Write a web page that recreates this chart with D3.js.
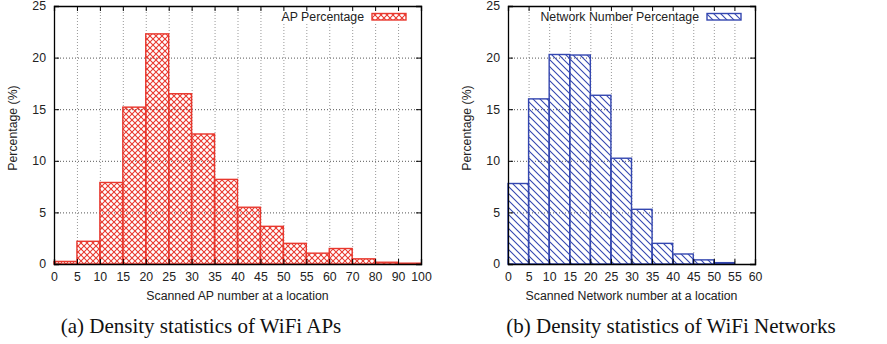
<!DOCTYPE html>
<html>
<head>
  <meta charset="utf-8">
  <script src="https://cdn.jsdelivr.net/npm/d3@7"></script>
  <style>
    body { margin: 0; background: #fff; }
    svg text { font-family: "Liberation Sans", Arial, sans-serif; fill: #222; }
    .caption { font-family: "Liberation Serif", "DejaVu Serif", serif; font-size: 21px; fill: #111; }
  </style>
</head>
<body>
<script type="text/javascript">
  // left chart: AP counts per location
  var apEdges = [0, 5, 10, 15, 20, 25, 30, 35, 40, 45, 50, 55, 60, 70, 80, 90, 100];
  var apValues = [0.25, 2.2, 7.9, 15.2, 22.3, 16.5, 12.6, 8.2, 5.5, 3.65, 2.0, 1.05, 1.5, 0.5, 0.17, 0.08];

  // right chart: network counts per location
  var netEdges = [0, 5, 10, 15, 20, 25, 30, 35, 40, 45, 50, 55, 60];
  var netValues = [7.8, 16.0, 20.3, 20.25, 16.35, 10.25, 5.3, 2.0, 0.97, 0.4, 0.13, 0.0];

  var yTicks = [0, 5, 10, 15, 20, 25];
  var fs = 12.3;

  var svg = d3.select("body").append("svg")
    .attr("width", 887)
    .attr("height", 344);

  var defs = svg.append("defs");

  // crosshatch
  var cross = defs.append("pattern")
    .attr("id", "cross")
    .attr("patternUnits", "userSpaceOnUse")
    .attr("width", 6).attr("height", 6);
  cross.append("path")
    .attr("d", "M0,0L6,6M6,0L0,6")
    .attr("stroke", "#e8382e").attr("stroke-width", 1.1);

  // diagonal hatch
  var diag = defs.append("pattern")
    .attr("id", "diag")
    .attr("patternUnits", "userSpaceOnUse")
    .attr("width", 7).attr("height", 7);
  diag.append("path")
    .attr("d", "M0,0L7,7M-1,6L1,8M6,-1L8,1")
    .attr("stroke", "#3447b0").attr("stroke-width", 1.1);

  function drawChart(opt) {
    var g = svg.append("g");
    var n = opt.values.length;

    var x = d3.scaleLinear().domain([0, n]).range([opt.left, opt.right]);
    var y = d3.scaleLinear().domain([0, 25]).range([264, 6]);

    // grid
    g.append("g")
      .attr("transform", "translate(0,6)")
      .call(d3.axisBottom(x).tickValues(d3.range(1, n)).tickSize(258).tickFormat(""))
      .call(function (a) {
        a.select(".domain").remove();
        a.selectAll("line").attr("stroke", "#999").attr("stroke-dasharray", "1,2");
      });
    g.append("g")
      .attr("transform", "translate(" + opt.left + ",0)")
      .call(d3.axisRight(y).tickValues([5, 10, 15, 20]).tickSize(opt.right - opt.left).tickFormat(""))
      .call(function (a) {
        a.select(".domain").remove();
        a.selectAll("line").attr("stroke", "#555").attr("stroke-dasharray", "1,2");
      });

    // legend background covers the grid
    g.append("rect")
      .attr("x", opt.legendX - opt.legendW - 3)
      .attr("y", 7)
      .attr("width", opt.legendW + 50)
      .attr("height", 16)
      .attr("fill", "#fff");

    // bars
    g.selectAll("rect.bar")
      .data(opt.values)
      .enter().append("rect")
      .attr("class", "bar")
      .attr("x", function (d, i) { return x(i); })
      .attr("width", function (d, i) { return x(i + 1) - x(i); })
      .attr("y", function (d) { return y(d); })
      .attr("height", function (d) { return y(0) - y(d); })
      .attr("fill", opt.fill)
      .attr("stroke", opt.color)
      .attr("stroke-width", 1.4);

    // axes with inward ticks
    var bottom = g.append("g")
      .attr("transform", "translate(0,264)")
      .call(d3.axisBottom(x).tickValues(d3.range(0, n + 1))
        .tickFormat(function (d) { return opt.edges[d]; })
        .tickSize(-5).tickPadding(8));
    var left = g.append("g")
      .attr("transform", "translate(" + opt.left + ",0)")
      .call(d3.axisLeft(y).tickValues(yTicks).tickSize(-5).tickPadding(8));
    var top = g.append("g")
      .attr("transform", "translate(0,6)")
      .call(d3.axisTop(x).tickValues(d3.range(0, n + 1)).tickSize(-5).tickFormat(""));
    var right = g.append("g")
      .attr("transform", "translate(" + opt.right + ",0)")
      .call(d3.axisRight(y).tickValues(yTicks).tickSize(-5).tickFormat(""));

    [bottom, left, top, right].forEach(function (a) {
      a.select(".domain").attr("stroke", "#000").attr("stroke-width", 1.3);
      a.selectAll("line").attr("stroke", "#000");
      a.selectAll("text").attr("font-size", fs).attr("fill", "#222")
        .style("font-family", "Liberation Sans, Arial, sans-serif");
    });

    // axis titles
    g.append("text")
      .attr("transform", "translate(" + (opt.left - 41) + ",128) rotate(-90)")
      .attr("text-anchor", "middle")
      .attr("dy", "0.35em")
      .attr("font-size", fs)
      .text("Percentage (%)");
    g.append("text")
      .attr("x", (opt.left + opt.right) / 2)
      .attr("y", 296)
      .attr("dy", "0.35em")
      .attr("text-anchor", "middle")
      .attr("font-size", fs)
      .text(opt.xlabel);

    // legend
    g.append("text")
      .attr("x", opt.legendX)
      .attr("y", 17)
      .attr("dy", "0.35em")
      .attr("text-anchor", "end")
      .attr("font-size", fs)
      .text(opt.legend);
    g.append("rect")
      .attr("x", opt.legendX + 8)
      .attr("y", 13.5)
      .attr("width", 34)
      .attr("height", 6.5)
      .attr("fill", opt.fill)
      .attr("stroke", opt.color)
      .attr("stroke-width", 1.4);

    // caption
    svg.append("text")
      .attr("class", "caption")
      .attr("x", opt.captionX)
      .attr("y", 333)
      .attr("text-anchor", "middle")
      .text(opt.caption);
  }

  drawChart({
    left: 54, right: 421,
    values: apValues, edges: apEdges,
    color: "#e8382e", fill: "url(#cross)",
    xlabel: "Scanned AP number at a location",
    legend: "AP Percentage", legendX: 364, legendW: 84,
    caption: "(a) Density statistics of WiFi APs", captionX: 201
  });

  drawChart({
    left: 508, right: 755,
    values: netValues, edges: netEdges,
    color: "#3447b0", fill: "url(#diag)",
    xlabel: "Scanned Network number at a location",
    legend: "Network Number Percentage", legendX: 699, legendW: 160,
    caption: "(b) Density statistics of WiFi Networks", captionX: 671
  });
</script>
</body>
</html>
